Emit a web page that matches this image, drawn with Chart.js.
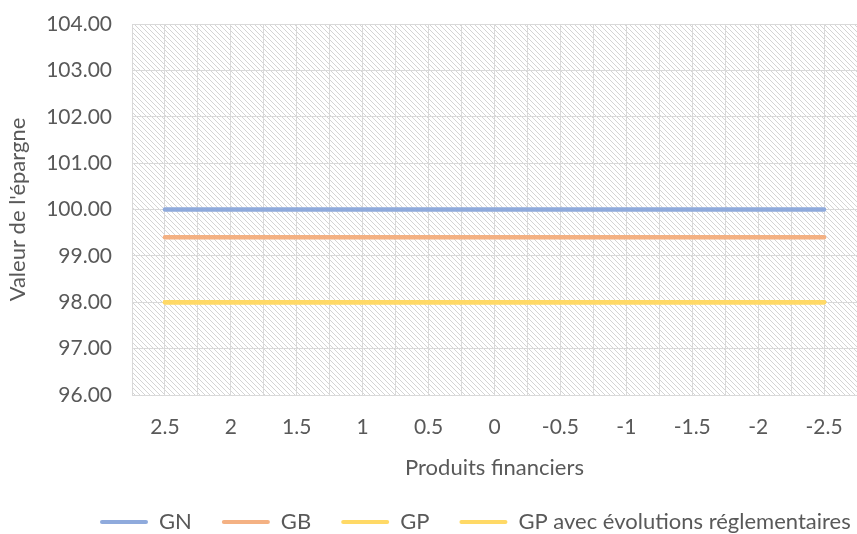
<!DOCTYPE html>
<html>
<head>
<meta charset="utf-8">
<script src="https://cdn.jsdelivr.net/npm/chart.js@4"></script>
<style>
  html, body { margin: 0; padding: 0; background: #fff; }
</style>
</head>
<body>
<canvas id="myChart" width="857" height="534"></canvas>
<script>
// x categories, read left to right
const categories = ['2.5', '2', '1.5', '1', '0.5', '0', '-0.5', '-1', '-1.5', '-2', '-2.5'];

const gnValues    = [100, 100, 100, 100, 100, 100, 100, 100, 100, 100, 100];
const gbValues    = [99.4, 99.4, 99.4, 99.4, 99.4, 99.4, 99.4, 99.4, 99.4, 99.4, 99.4];
const gpValues    = [98, 98, 98, 98, 98, 98, 98, 98, 98, 98, 98];
const gpRegValues = [98, 98, 98, 98, 98, 98, 98, 98, 98, 98, 98];

const seriesNames = ['GN', 'GB', 'GP', 'GP avec évolutions réglementaires'];
const yTicks = [96, 97, 98, 99, 100, 101, 102, 103, 104];

const textColor = '#595959';
const gridColor = '#d9d9d9';
const fontFamily = 'Lato, "Liberation Sans", sans-serif';
const legendPadding = 30;
const legendStartX = 100;

function toPoints(values) {
    let pts = [];
    for (let i = 0; i < values.length; i++) {
        pts.push({ x: i, y: values[i] });
    }
    return pts;
}

function makeLine(label, values, color) {
    return {
        label: label,
        data: toPoints(values),
        borderColor: color,
        backgroundColor: color,
        borderWidth: 4.5,
        borderCapStyle: 'round',
        pointRadius: 0,
        pointHoverRadius: 0,
        tension: 0,
        fill: false
    };
}

// diagonal hatch fill for the plot area
function hatchPattern(ctx) {
    const tile = document.createElement('canvas');
    tile.width = 5;
    tile.height = 5;
    const t = tile.getContext('2d');
    t.fillStyle = '#ffffff';
    t.fillRect(0, 0, 5, 5);
    t.fillStyle = '#d4d4d4';
    for (let i = 0; i < 5; i++) {
        t.fillRect(i, i, 1, 1);
    }
    return ctx.createPattern(tile, 'repeat');
}

const plotBackground = {
    id: 'plotBackground',
    afterLayout(chart) {
        // legend row starts under the y labels and may run to the canvas edge
        chart.legend.left = legendStartX - legendPadding;
        chart.legend.right = chart.width + 60;
    },
    beforeDraw(chart) {
        const ctx = chart.ctx;
        const area = chart.chartArea;
        ctx.save();
        ctx.fillStyle = '#ffffff';
        ctx.fillRect(0, 0, chart.width, chart.height);
        ctx.fillStyle = hatchPattern(ctx);
        ctx.fillRect(area.left, area.top, area.right - area.left, area.bottom - area.top);
        ctx.restore();
    }
};

const data = {
    datasets: [
        makeLine(seriesNames[0], gnValues, '#8faadc'),
        makeLine(seriesNames[1], gbValues, '#f4b183'),
        makeLine(seriesNames[2], gpValues, '#ffd966'),
        makeLine(seriesNames[3], gpRegValues, '#ffd966')
    ]
};

const config = {
    type: 'line',
    data,
    plugins: [plotBackground],
    options: {
        responsive: false,
        animation: false,
        layout: { padding: { top: 24, left: 0, right: 0, bottom: 0 } },
        plugins: {
            tooltip: { enabled: false },
            legend: {
                position: 'bottom',
                align: 'start',
                maxHeight: 53,
                labels: {
                    boxWidth: 48,
                    boxHeight: 4,
                    padding: legendPadding,
                    color: textColor,
                    font: { family: fontFamily, size: 22 },
                    generateLabels(chart) {
                        const items = Chart.defaults.plugins.legend.labels.generateLabels(chart);
                        items.forEach(it => { it.lineWidth = 0; it.borderRadius = 2; });
                        return items;
                    }
                }
            }
        },
        scales: {
            x: {
                type: 'linear',
                min: -0.5,
                max: 10.5,
                afterFit(scale) {
                    scale.height = 86;
                    scale.paddingLeft = 0;
                    scale.paddingRight = 0;
                },
                grid: { color: gridColor, drawTicks: false },
                border: { color: gridColor },
                ticks: {
                    stepSize: 0.5,
                    autoSkip: false,
                    maxRotation: 0,
                    padding: 20,
                    color: textColor,
                    font: { family: fontFamily, size: 21 },
                    callback(value) {
                        const i = Math.round(value);
                        return Math.abs(value - i) < 1e-6 ? categories[i] : '';
                    }
                },
                title: {
                    display: true,
                    text: 'Produits financiers',
                    color: textColor,
                    font: { family: fontFamily, size: 22 },
                    padding: { top: 0, bottom: 0 }
                }
            },
            y: {
                min: yTicks[0],
                max: yTicks[yTicks.length - 1],
                afterFit(scale) {
                    scale.width = 132;
                    scale.paddingTop = 0;
                    scale.paddingBottom = 0;
                },
                afterBuildTicks(scale) {
                    scale.ticks = yTicks.map(v => ({ value: v }));
                },
                grid: { color: gridColor, drawTicks: false },
                border: { color: gridColor },
                ticks: {
                    padding: 20,
                    color: textColor,
                    font: { family: fontFamily, size: 21 },
                    callback(value) { return value.toFixed(2); }
                },
                title: {
                    display: true,
                    text: "Valeur de l'épargne",
                    color: textColor,
                    font: { family: fontFamily, size: 22 },
                    padding: { top: 5, bottom: 0 }
                }
            }
        }
    }
};

const myChart = new Chart(document.getElementById('myChart'), config);
</script>
</body>
</html>
